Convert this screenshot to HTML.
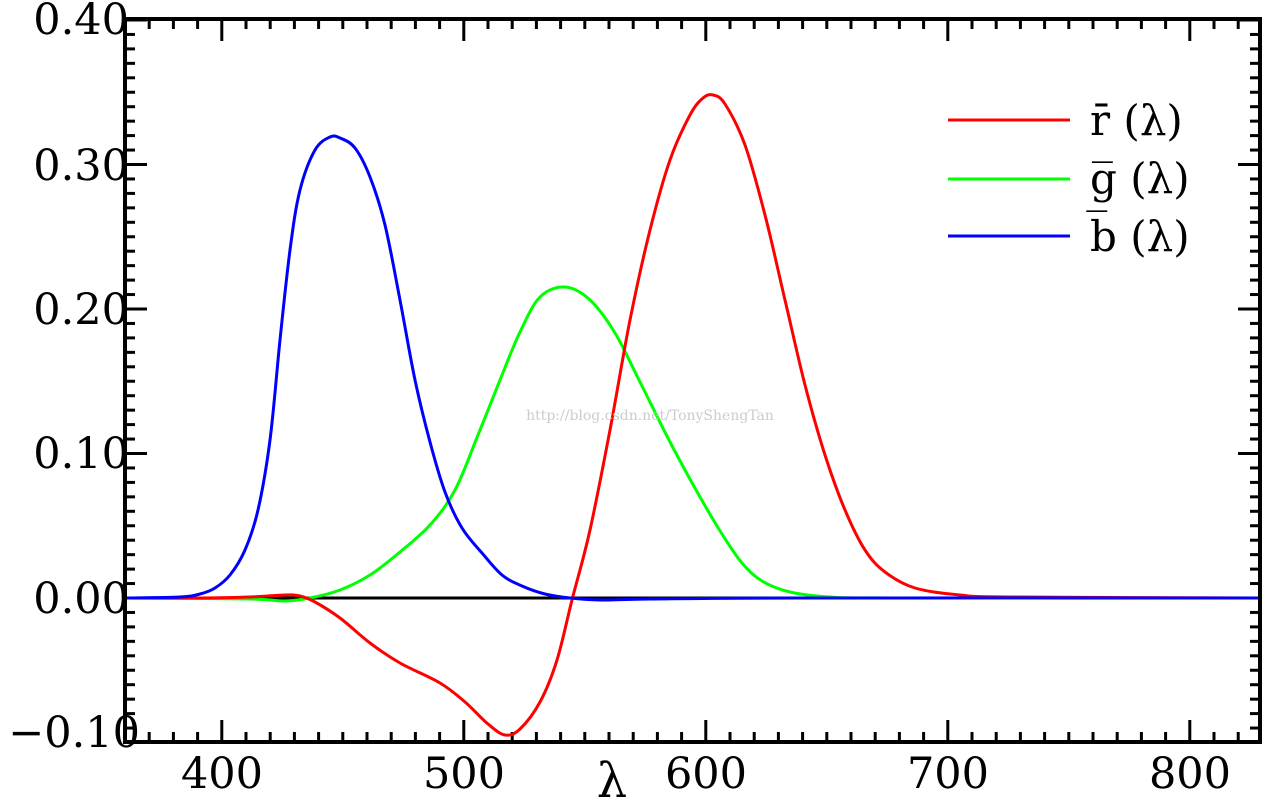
<!DOCTYPE html>
<html><head><meta charset="utf-8"><style>
html,body{margin:0;padding:0;background:#fff;}
svg{display:block;}
text{font-family:"DejaVu Serif","Liberation Serif",serif;fill:#000;}
</style></head><body>
<svg id="s" width="1280" height="811" viewBox="0 0 1280 811" xmlns="http://www.w3.org/2000/svg">
<g id="ticks" stroke="#000" stroke-width="3"></g>
<line x1="125" y1="598" x2="1260" y2="598" stroke="#000" stroke-width="3"/>
<path id="pg" fill="none" stroke="#00ff00" stroke-width="3"/>
<path id="pr" fill="none" stroke="#ff0000" stroke-width="3"/>
<path id="pb" fill="none" stroke="#0000ff" stroke-width="3"/>
<rect x="125" y="19" width="1135" height="723" fill="none" stroke="#000" stroke-width="4"/>
<g font-size="43" text-anchor="end">
<text x="129" y="34">0.40</text>
<text x="129" y="180">0.30</text>
<text x="129" y="324">0.20</text>
<text x="129" y="468">0.10</text>
<text x="129" y="613">0.00</text>
<text x="140" y="747">−0.10</text>
</g>
<g font-size="43" text-anchor="middle">
<text x="222" y="788">400</text>
<text x="464" y="788">500</text>
<text x="706" y="788">600</text>
<text x="948" y="788">700</text>
<text x="1190" y="788">800</text>
</g>
<text x="612" y="797" font-size="48" text-anchor="middle">λ</text>
<text x="650" y="420" font-size="14" style="fill:#ccc" text-anchor="middle" font-family="Liberation Mono,monospace">http://blog.csdn.net/TonyShengTan</text>
<line x1="948" y1="120" x2="1070" y2="120" stroke="#ff0000" stroke-width="3"/>
<line x1="948" y1="179" x2="1070" y2="179" stroke="#00ff00" stroke-width="3"/>
<line x1="948" y1="236" x2="1070" y2="236" stroke="#0000ff" stroke-width="3"/>
<g font-size="42">
<text x="1090" y="135">r̄ (λ)</text>
<text x="1090" y="193">g̅ (λ)</text>
<text x="1090" y="251">b̅ (λ)</text>
</g>
</svg>
<script>
function cr(p){var d="M"+p[0][0]+","+p[0][1];for(var i=0;i<p.length-1;i++){var a=p[i-1]||p[i],b=p[i],c=p[i+1],e=p[i+2]||c;
d+=" C"+(b[0]+(c[0]-a[0])/6).toFixed(1)+","+(b[1]+(c[1]-a[1])/6).toFixed(1)+" "+(c[0]-(e[0]-b[0])/6).toFixed(1)+","+(c[1]-(e[1]-b[1])/6).toFixed(1)+" "+c[0]+","+c[1];}return d;}
var R=[[125,598],[200,598],[250,597],[285,595],[300,596],[315,602],[340,618],[370,643],[400,663],[440,683],[465,702],[488,724],[505,735],[520,729],[540,702],[557,660],[572,600],[590,530],[610,430],[630,320],[650,230],[670,160],[690,115],[703,98],[713,95],[725,104],[745,145],[765,215],[785,300],[805,385],[825,455],[845,510],[865,550],[885,572],[915,588],[960,595],[1010,597],[1260,598]];
var G=[[125,598],[250,599],[285,601],[310,598],[340,590],[370,575],[400,552],[430,525],[455,490],[478,435],[500,380],[520,332],[540,297],[565,287],[590,300],[615,333],[640,382],[670,442],[700,497],[722,534],[742,563],[762,581],[790,592],[830,597],[900,598],[1260,598]];
var B=[[125,598],[180,597],[200,594],[215,588],[230,575],[245,550],[258,510],[270,440],[280,340],[290,250],[300,190],[315,150],[330,137],[340,138],[355,148],[370,177],[385,225],[400,300],[415,380],[430,442],[445,492],[462,528],[482,553],[502,575],[522,586],[545,594],[570,598],[600,600],[650,599],[800,598],[1260,598]];
document.getElementById("pr").setAttribute("d",cr(R));
document.getElementById("pg").setAttribute("d",cr(G));
document.getElementById("pb").setAttribute("d",cr(B));
var t="",g=document.getElementById("ticks");
for(var l=370;l<=820;l+=10){var x=125+(l-360)*2.42,L=(l%100==0)?22:10;t+='<line x1="'+x+'" y1="742" x2="'+x+'" y2="'+(742-L)+'"/><line x1="'+x+'" y1="19" x2="'+x+'" y2="'+(19+L)+'"/>';}
for(var k=-10;k<=40;k++){var y=598-k*14.45,L=(k%10==0)?22:10;t+='<line x1="125" y1="'+y+'" x2="'+(125+L)+'" y2="'+y+'"/><line x1="1260" y1="'+y+'" x2="'+(1260-L)+'" y2="'+y+'"/>';}
g.innerHTML=t;
</script>
</body></html>
